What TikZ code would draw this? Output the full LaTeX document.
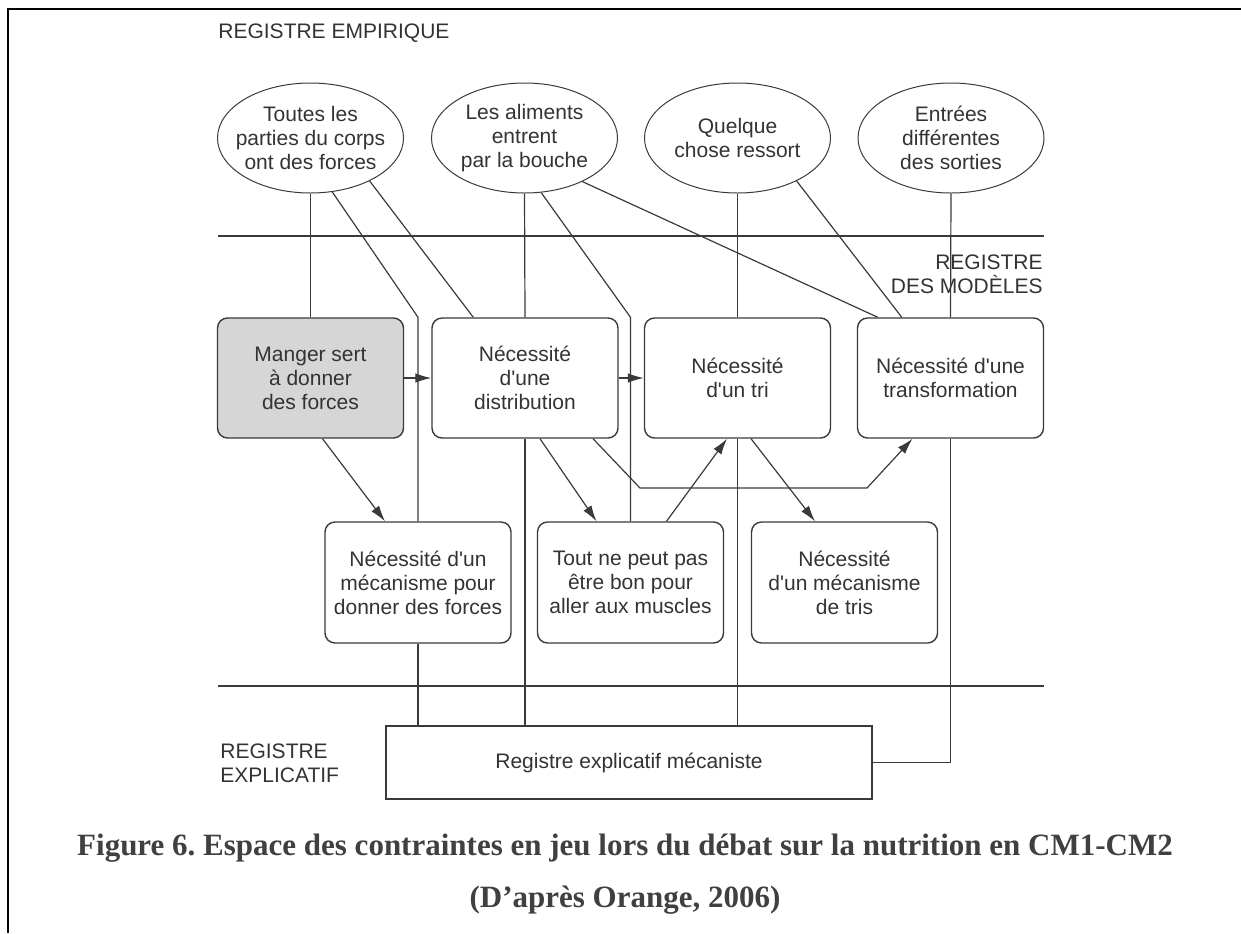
\documentclass[tikz,border=0pt]{standalone}
\usepackage{fontspec}
\setmainfont{Liberation Sans}[Ligatures=TeXOff]
\newfontfamily\capfont{Liberation Serif}
\usetikzlibrary{shapes.geometric,arrows.meta,calc}
\definecolor{ink}{HTML}{333333}
\definecolor{linec}{HTML}{3A3A3A}
\definecolor{boxgray}{HTML}{D6D6D6}
\definecolor{capc}{HTML}{404040}
\frenchspacing
\begin{document}
\begin{tikzpicture}[x=0.5pt,y=-0.5pt,
  txt/.style={font=\fontsize{10.5pt}{12pt}\selectfont, text=ink, align=center},
  ell/.style={ellipse, draw=linec, line width=0.5pt, minimum width=93pt, minimum height=55pt, inner xsep=-12pt, inner ysep=-12pt, txt},
  rbox/.style={rectangle, rounded corners=5pt, draw=linec, line width=0.7pt, minimum width=93pt, minimum height=60pt, inner sep=0pt, txt},
  conn/.style={draw=linec, line width=0.6pt},
  arr/.style={conn, -{Latex[length=8pt,width=4.8pt]}},
  captxt/.style={font=\capfont\bfseries\fontsize{15.5pt}{18pt}\selectfont, text=capc, inner sep=0pt, anchor=base}
]
\useasboundingbox (0,0) rectangle (1241,933);
% frame
\draw[black, line width=1.3pt] (8,933) -- (8,9) -- (1241,9);

% register labels
\node[txt, anchor=west, inner sep=0pt] (lemp) at (218,33) {REGISTRE EMPIRIQUE};
\node[txt, anchor=east, align=right, inner sep=0pt] (lmod) at (1043,274.5) {REGISTRE\\DES MOD\`ELES};
\node[txt, anchor=west, align=left, inner sep=0pt] (lexp) at (220,763) {REGISTRE\\EXPLICATIF};

% separators
\coordinate (s1a) at (218,236); \coordinate (s1b) at (1044,236);
\coordinate (s2a) at (218,686); \coordinate (s2b) at (1044,686);
\draw[conn] (s1a) -- (s1b);
\draw[conn] (s2a) -- (s2b);

% ellipses
\node[ell] (e1) at (310.5,138) {Toutes les\\parties du corps\\ont des forces};
\node[ell] (e2) at (524.5,138) {Les aliments\\entrent\\par la bouche};
\node[ell] (e3) at (737.5,138) {Quelque\\chose ressort};
\node[ell] (e4) at (951,138) {Entrées\\différentes\\des sorties};

% model boxes
\node[rbox, fill=boxgray] (b1) at (310.5,378) {Manger sert\\à donner\\des forces};
\node[rbox] (b2) at (525,378) {Nécessité\\d'une\\distribution};
\node[rbox] (b3) at (737.5,378) {Nécessité\\d'un tri};
\node[rbox] (b4) at (950.5,378) {Nécessité d'une\\transformation};
\node[rbox, minimum height=60.5pt] (b5) at (418,582.5) {Nécessité d'un\\mécanisme pour\\donner des forces};
\node[rbox, minimum height=60.5pt] (b6) at (630.5,582.5) {Tout ne peut pas\\être bon pour\\aller aux muscles};
\node[rbox, minimum height=60.5pt] (b7) at (844.5,582.5) {Nécessité\\d'un mécanisme\\de tris};

% explanatory box
\node[rectangle, draw=linec, line width=0.7pt, minimum width=243pt, minimum height=36.5pt, inner sep=0pt, txt] (R) at (629,762.5) {Registre explicatif mécaniste};

% empirical -> models
\draw[conn] (e1.south) -- (b1.north);
\coordinate (kA) at (b5.north |- b1.north);
\draw[conn] (e1.-68) -- (kA) -- (b5.north);
\draw[conn] (e1.-36.5) -- ($(b2.north west)+(42,0)$);
\draw[conn] (e2.south) -- (b2.north);
\coordinate (kB) at (b6.north |- b2.north);
\draw[conn] (e2.-73) -- (kB) -- (b6.north);
\draw[conn] (e2.-37) -- ($(b4.north west)+(21,0)$);
\draw[conn] (e3.south) -- (b3.north);
\draw[conn] (e3.-36) -- ($(b4.north west)+(45,0)$);
\draw[conn] (e4.south) -- (b4.north);

% arrows among models
\draw[arr] (b1) -- (b2);
\draw[arr] (b2) -- (b3);
\draw[arr] ($(b1.south)+(12,0)$) -- ($(b5.north)+(-33,0)$);
\draw[arr] ($(b2.south)+(15,0)$) -- ($(b6.north)+(-34,0)$);
\coordinate (k1) at (640,488);
\coordinate (k2) at (867,488);
\draw[arr] ($(b2.south)+(68,0)$) -- (k1) -- (k2) -- ($(b4.south)+(-38,0)$);
\draw[arr] ($(b6.north)+(36,0)$) -- ($(b3.south)+(-10.5,0)$);
\draw[arr] ($(b3.south)+(13.5,0)$) -- ($(b7.north)+(-29.5,0)$);

% models -> explanatory register
\draw[conn] (b5.south) -- (b5.south |- R.north);
\draw[conn] (b2.south) -- (b2.south |- R.north);
\draw[conn] (b3.south) -- (b3.south |- R.north);
\draw[conn] (b4.south) |- (R.east);

% caption
\node[captxt] (cap1) at (625,855) {Figure 6. Espace des contraintes en jeu lors du débat sur la nutrition en CM1-CM2};
\node[captxt] (cap2) at (625,907) {(D’après Orange, 2006)};
\end{tikzpicture}
\end{document}
